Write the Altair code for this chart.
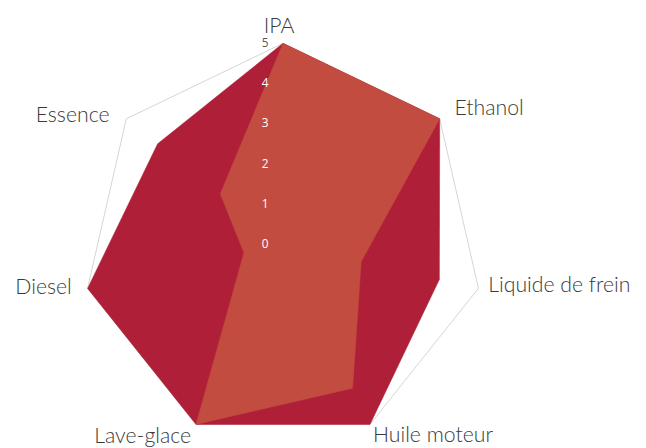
import altair as alt
import pandas as pd

# ---- data ----
categories = ["IPA", "Ethanol", "Liquide de frein", "Huile moteur",
              "Lave-glace", "Diesel", "Essence"]
serie1 = [5, 5, 4, 5, 5, 5, 4]
serie2 = [5, 5, 2, 4, 5, 1, 2]
series_names = ["Série 1", "Série 2"]
ticks = [0, 1, 2, 3, 4, 5]

N = len(categories)
rows = []
for s, vals in zip(series_names, [serie1, serie2]):
    for i, (c, v) in enumerate(zip(categories, vals)):
        rows.append({"serie": s, "categorie": c, "idx": i, "valeur": v})
df = pd.DataFrame(rows)
ring_df = pd.DataFrame({"categorie": categories, "idx": list(range(N)),
                        "valeur": [max(ticks)] * N})
tick_df = pd.DataFrame({"t": ticks})

# ---- styles ----
DARK = "#AF1F38"
LIGHT = "#C34C41"
RING = "#D4D4D4"
LABEL_COLOR = "#3A3A3A"
FONT = "'Lato Light', 'Lato Hairline', Lato"

W, H = 638, 440
UNIT = 40.6           # pixels per value unit
CX, CY = 278.5, 236   # centre inside the view
xs = alt.Scale(domain=[-CX / UNIT, (W - CX) / UNIT], nice=False, zero=False)
ys = alt.Scale(domain=[-(H - CY) / UNIT, CY / UNIT], nice=False, zero=False)

calc = dict(
    px=f"datum.valeur * sin(2 * PI * datum.idx / {N})",
    py=f"datum.valeur * cos(2 * PI * datum.idx / {N})",
)
X = alt.X("px:Q", scale=xs, axis=None)
Y = alt.Y("py:Q", scale=ys, axis=None)

ring = alt.Chart(ring_df).transform_calculate(**calc).mark_line(
    interpolate="linear-closed", stroke=RING, strokeWidth=1
).encode(x=X, y=Y, order="idx:Q")

def polygon(name, color):
    return alt.Chart(df).transform_filter(
        alt.datum.serie == name
    ).transform_calculate(**calc).mark_line(
        interpolate="linear-closed", fill=color, stroke=color, strokeWidth=0.5
    ).encode(x=X, y=Y, order="idx:Q")

poly1 = polygon(series_names[0], DARK)
poly2 = polygon(series_names[1], LIGHT)

tick_labels = alt.Chart(tick_df).transform_calculate(
    px="0", py="datum.t"
).mark_text(font="Open Sans", fontSize=12, align="center", baseline="middle",
            dx=-18).encode(
    x=X, y=Y, text="t:Q",
    color=alt.condition(alt.datum.t == max(ticks), alt.value("#595959"),
                        alt.value("#FFFFFF")),
)

label_style = {
    "IPA": ("center", -4, -10),
    "Ethanol": ("left", 15, -4),
    "Liquide de frein": ("left", 10, 4),
    "Huile moteur": ("left", 3, 18),
    "Lave-glace": ("right", -5, 19),
    "Diesel": ("right", -16, 6),
    "Essence": ("right", -17, 3),
}
label_layers = []
for c in categories:
    align, dx, dy = label_style[c]
    label_layers.append(
        alt.Chart(ring_df).transform_filter(alt.datum.categorie == c)
        .transform_calculate(**calc)
        .mark_text(font=FONT, fontWeight=300, fontSize=21.5, color=LABEL_COLOR,
                   align=align, baseline="alphabetic", dx=dx, dy=dy)
        .encode(x=X, y=Y, text="categorie:N")
    )

chart = alt.layer(ring, poly1, poly2, tick_labels, *label_layers).properties(
    width=W, height=H, padding=0, autosize="none"
).configure_view(stroke=None)

chart.save("out.html", embed_options={"renderer": "svg", "actions": False})
